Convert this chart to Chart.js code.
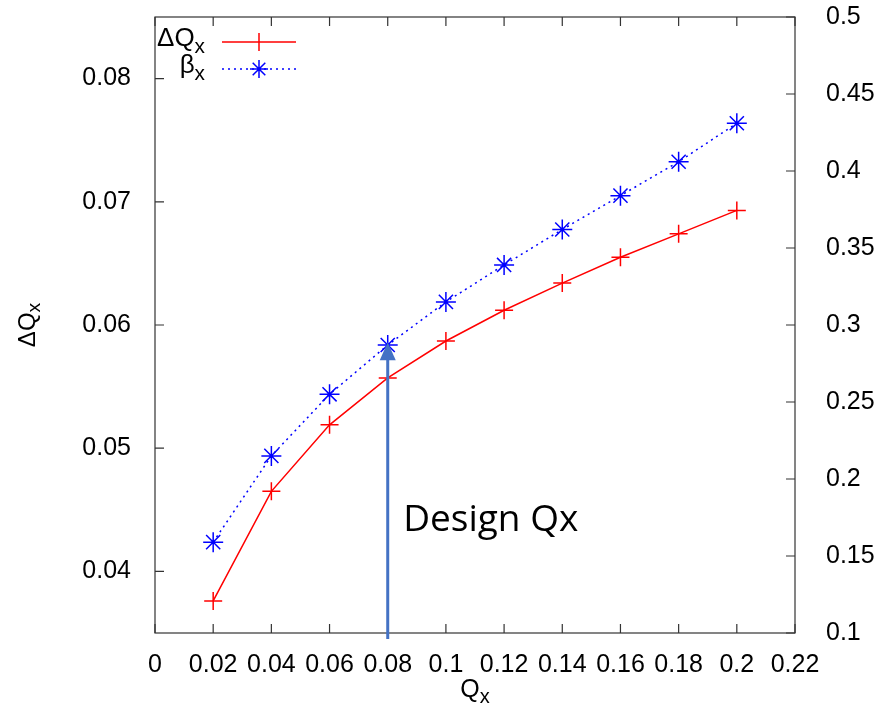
<!DOCTYPE html>
<html>
<head>
<meta charset="utf-8">
<script src="https://cdn.jsdelivr.net/npm/chart.js@4/dist/chart.umd.min.js"></script>
<style>
html, body { margin: 0; padding: 0; background: #fff; }
#wrap { width: 877px; height: 718px; }
</style>
</head>
<body>
<div id="wrap"><canvas id="grafico"></canvas></div>
<script>
// datos
const qx = [0.02, 0.04, 0.06, 0.08, 0.1, 0.12, 0.14, 0.16, 0.18, 0.2];
const deltaQx = [0.0376, 0.0465, 0.0519, 0.0557, 0.0587, 0.0612, 0.0634, 0.0655, 0.0674, 0.0693];
const betaX = [0.159, 0.215, 0.255, 0.287, 0.315, 0.339, 0.362, 0.384, 0.406, 0.431];
const xTicks = [0, 0.02, 0.04, 0.06, 0.08, 0.1, 0.12, 0.14, 0.16, 0.18, 0.2, 0.22];
const yTicks = [0.04, 0.05, 0.06, 0.07, 0.08];
const y2Ticks = [0.1, 0.15, 0.2, 0.25, 0.3, 0.35, 0.4, 0.45, 0.5];
const designQx = 0.08;
const designTop = 0.0586;

function fmt(v) {
    return parseFloat(v.toFixed(3)).toString();
}

function fijarTicks(lista) {
    return function (scale) {
        scale.ticks = lista.map(v => ({ value: v }));
    };
}

// texto con subindice
function textoSub(ctx, base, sub, x, y, size, align) {
    ctx.font = size + 'px "Liberation Sans", Arial, sans-serif';
    let wb = ctx.measureText(base).width;
    ctx.font = (size * 0.8) + 'px "Liberation Sans", Arial, sans-serif';
    let ws = ctx.measureText(sub).width;
    let total = wb + ws;
    let x0 = x;
    if (align === 'right') x0 = x - total;
    if (align === 'center') x0 = x - total / 2;
    ctx.textAlign = 'left';
    ctx.textBaseline = 'middle';
    ctx.font = size + 'px "Liberation Sans", Arial, sans-serif';
    ctx.fillText(base, x0, y);
    ctx.font = (size * 0.8) + 'px "Liberation Sans", Arial, sans-serif';
    ctx.fillText(sub, x0 + wb, y + size * 0.3);
}

const extras = {
    id: 'extras',
    afterDraw(chart) {
        const ctx = chart.ctx;
        const a = chart.chartArea;
        const sx = chart.scales.x, sy = chart.scales.y, sy2 = chart.scales.y2;
        ctx.save();
        // marco
        ctx.strokeStyle = '#333';
        ctx.lineWidth = 1.2;
        ctx.strokeRect(a.left, a.top, a.right - a.left, a.bottom - a.top);
        // marcas hacia adentro
        const tl = 9;
        ctx.beginPath();
        xTicks.forEach(v => {
            let px = sx.getPixelForValue(v);
            ctx.moveTo(px, a.bottom); ctx.lineTo(px, a.bottom - tl);
            ctx.moveTo(px, a.top); ctx.lineTo(px, a.top + tl);
        });
        yTicks.forEach(v => {
            let py = sy.getPixelForValue(v);
            ctx.moveTo(a.left, py); ctx.lineTo(a.left + tl, py);
        });
        y2Ticks.forEach(v => {
            let py = sy2.getPixelForValue(v);
            ctx.moveTo(a.right, py); ctx.lineTo(a.right - tl, py);
        });
        ctx.stroke();

        // flecha Design Qx
        let ax = sx.getPixelForValue(designQx);
        let ay = sy.getPixelForValue(designTop);
        ctx.strokeStyle = '#4472C4';
        ctx.fillStyle = '#4472C4';
        ctx.lineWidth = 3;
        ctx.beginPath();
        ctx.moveTo(ax, a.bottom + 6);
        ctx.lineTo(ax, ay + 16);
        ctx.stroke();
        ctx.beginPath();
        ctx.moveTo(ax, ay);
        ctx.lineTo(ax - 8, ay + 18);
        ctx.lineTo(ax + 8, ay + 18);
        ctx.closePath();
        ctx.fill();
        ctx.fillStyle = '#000';
        ctx.font = '37px "Open Sans", Lato, sans-serif';
        ctx.textAlign = 'left';
        ctx.textBaseline = 'middle';
        ctx.fillText('Design Qx', sx.getPixelForValue(0.0853), sy.getPixelForValue(0.0441));

        // leyenda
        ctx.fillStyle = '#000';
        textoSub(ctx, '\u0394Q', 'x', a.left + 50, a.top + 22, 26, 'right');
        textoSub(ctx, '\u03B2', 'x', a.left + 50, a.top + 49, 26, 'right');
        ctx.strokeStyle = '#ff0000';
        ctx.lineWidth = 1.5;
        ctx.beginPath();
        ctx.moveTo(a.left + 67, a.top + 25); ctx.lineTo(a.left + 141, a.top + 25);
        ctx.moveTo(a.left + 104, a.top + 16); ctx.lineTo(a.left + 104, a.top + 34);
        ctx.moveTo(a.left + 95, a.top + 25); ctx.lineTo(a.left + 113, a.top + 25);
        ctx.stroke();
        ctx.strokeStyle = '#0000ff';
        ctx.setLineDash([2, 4]);
        ctx.beginPath();
        ctx.moveTo(a.left + 67, a.top + 52); ctx.lineTo(a.left + 141, a.top + 52);
        ctx.stroke();
        ctx.setLineDash([]);
        let cx = a.left + 104, cy = a.top + 52, r = 9;
        ctx.beginPath();
        ctx.moveTo(cx, cy - r); ctx.lineTo(cx, cy + r);
        ctx.moveTo(cx - r, cy); ctx.lineTo(cx + r, cy);
        ctx.moveTo(cx - r * 0.7, cy - r * 0.7); ctx.lineTo(cx + r * 0.7, cy + r * 0.7);
        ctx.moveTo(cx - r * 0.7, cy + r * 0.7); ctx.lineTo(cx + r * 0.7, cy - r * 0.7);
        ctx.stroke();

        // titulos de ejes
        ctx.fillStyle = '#000';
        textoSub(ctx, 'Q', 'x', (a.left + a.right) / 2, 690, 25, 'center');
        ctx.translate(28, (a.top + a.bottom) / 2);
        ctx.rotate(-Math.PI / 2);
        textoSub(ctx, '\u0394Q', 'x', 0, 0, 24, 'center');
        ctx.restore();
    }
};

function ajusteY(ancho) {
    return function (s) {
        s.width = ancho;
        s.paddingTop = 0;
        s.paddingBottom = 0;
    };
}

let grafico = new Chart(
    document.getElementById('grafico').getContext('2d'), {
    type: 'line',
    data: {
        datasets: [{
            label: '\u0394Qx',
            data: qx.map((v, i) => ({ x: v, y: deltaQx[i] })),
            yAxisID: 'y',
            borderColor: '#ff0000',
            backgroundColor: '#ff0000',
            borderWidth: 1.5,
            pointStyle: 'cross',
            pointRadius: 9,
            pointBorderWidth: 1.5,
            tension: 0
        }, {
            label: '\u03B2x',
            data: qx.map((v, i) => ({ x: v, y: betaX[i] })),
            yAxisID: 'y2',
            borderColor: '#0000ff',
            backgroundColor: '#0000ff',
            borderWidth: 1.5,
            borderDash: [2, 4],
            pointStyle: 'star',
            pointRadius: 10,
            pointBorderWidth: 1.5,
            tension: 0
        }]
    },
    options: {
        responsive: true,
        maintainAspectRatio: false,
        animation: false,
        layout: { padding: { top: 17, left: 0, right: 0, bottom: 0 } },
        plugins: {
            legend: { display: false },
            tooltip: { enabled: false }
        },
        scales: {
            x: {
                type: 'linear',
                min: 0,
                max: 0.22,
                afterBuildTicks: fijarTicks(xTicks),
                afterFit: s => { s.height = 85; s.paddingLeft = 0; s.paddingRight = 0; },
                grid: { display: false },
                border: { display: false },
                ticks: {
                    autoSkip: false,
                    maxRotation: 0,
                    padding: 9,
                    color: '#000',
                    font: { family: '"Liberation Sans", Arial, sans-serif', size: 25 },
                    callback: v => fmt(v)
                }
            },
            y: {
                position: 'left',
                min: 0.035,
                max: 0.085,
                afterBuildTicks: fijarTicks(yTicks),
                afterFit: ajusteY(155),
                grid: { display: false },
                border: { display: false },
                ticks: {
                    padding: 16,
                    color: '#000',
                    font: { family: '"Liberation Sans", Arial, sans-serif', size: 25 },
                    callback: v => fmt(v)
                }
            },
            y2: {
                position: 'right',
                min: 0.1,
                max: 0.5,
                afterBuildTicks: fijarTicks(y2Ticks),
                afterFit: ajusteY(82),
                grid: { display: false },
                border: { display: false },
                ticks: {
                    padding: 23,
                    color: '#000',
                    font: { family: '"Liberation Sans", Arial, sans-serif', size: 25 },
                    callback: v => fmt(v)
                }
            }
        }
    },
    plugins: [extras]
});
</script>
</body>
</html>
